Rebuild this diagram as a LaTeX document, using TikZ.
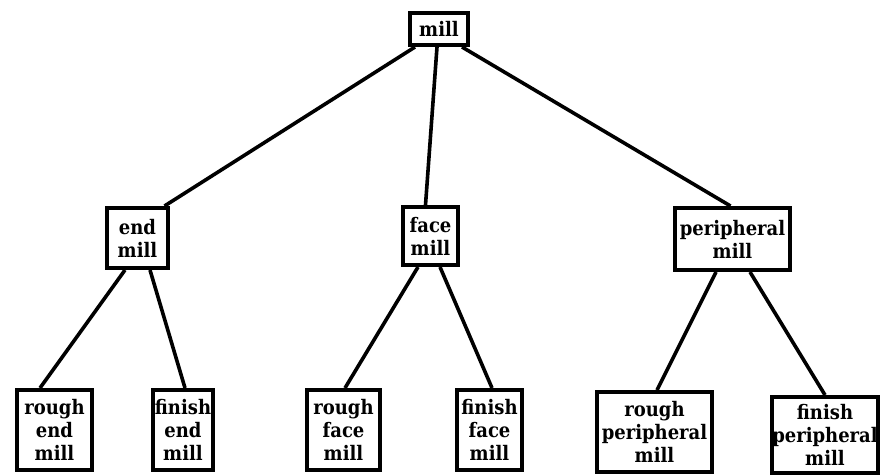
\documentclass[tikz,border=0pt]{standalone}
\usepackage{fontspec}
\setmainfont{DejaVu Serif Condensed}
\usetikzlibrary{calc}
\begin{document}
\begin{tikzpicture}[x=1pt,y=-1pt,
  tool/.style={draw, line width=4pt, inner sep=0pt, align=center,
    font=\fontsize{20}{23}\selectfont\bfseries},
  link/.style={line width=3.6pt}]
\useasboundingbox (0,0) rectangle (882,474);
% root
\node[tool, minimum width=58pt, minimum height=32pt] (mill) at (439,29) {mill};
% middle level
\node[tool, minimum width=61pt, minimum height=60pt] (endm) at (137.5,238) {end\\mill};
\node[tool, minimum width=55pt, minimum height=58pt] (facem) at (430.5,236) {face\\mill};
\node[tool, minimum width=115pt, minimum height=62pt] (perm) at (732.5,239) {peripheral\\mill};
% leaves
\node[tool, minimum width=75pt, minimum height=80pt] (re) at (54.5,430) {rough\\end\\mill};
\node[tool, minimum width=60pt, minimum height=80pt] (fe) at (183,430) {finish\\end\\mill};
\node[tool, minimum width=73pt, minimum height=80pt] (rf) at (343.5,430) {rough\\face\\mill};
\node[tool, minimum width=65pt, minimum height=80pt] (ff) at (489.5,430) {finish\\face\\mill};
\node[tool, minimum width=115pt, minimum height=80pt] (rp) at (654.5,432) {rough\\peripheral\\mill};
\node[tool, minimum width=106pt, minimum height=76pt] (fp) at (825,435) {finish\\peripheral\\mill};
% connectors
\draw[link] ($(mill.south)+(-24,0)$) -- ($(endm.north)+(27,0)$);
\draw[link] ($(mill.south)+(-2,0)$) -- ($(facem.north)+(-5,0)$);
\draw[link] ($(mill.south)+(23,0)$) -- ($(perm.north)+(-2,0)$);
\draw[link] ($(endm.south)+(-12.5,0)$) -- ($(re.north)+(-14.5,0)$);
\draw[link] ($(endm.south)+(12.5,0)$) -- ($(fe.north)+(2,0)$);
\draw[link] ($(facem.south)+(-12.5,0)$) -- ($(rf.north)+(1.5,0)$);
\draw[link] ($(facem.south)+(9.5,0)$) -- ($(ff.north)+(2.5,0)$);
\draw[link] ($(perm.south)+(-16.5,0)$) -- ($(rp.north)+(2.5,0)$);
\draw[link] ($(perm.south)+(17.5,0)$) -- ($(fp.north)+(0,0)$);
\end{tikzpicture}
\end{document}
